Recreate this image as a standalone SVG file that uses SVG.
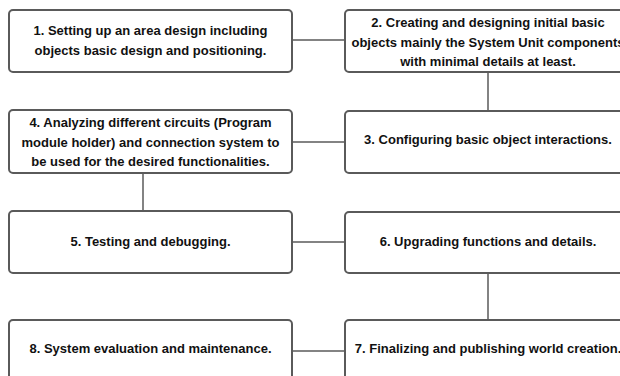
<svg xmlns="http://www.w3.org/2000/svg" width="620" height="376" viewBox="0 0 620 376">
<style>
.box{fill:#fff;stroke:#5a5a5a;stroke-width:2}
.lbl{font-family:"Liberation Sans",Arial,sans-serif;font-weight:bold;font-size:13px;fill:#111;text-anchor:middle}
.con{stroke:#5a5a5a;stroke-width:1.5;fill:none}
</style>
<rect width="620" height="376" fill="#fff"/>
<g id="connectors">
<line class="con" x1="292" y1="40" x2="345" y2="40"/>
<line class="con" x1="488" y1="72" x2="488" y2="111"/>
<line class="con" x1="292" y1="142" x2="345" y2="142"/>
<line class="con" x1="143" y1="173" x2="143" y2="211"/>
<line class="con" x1="292" y1="242" x2="345" y2="242"/>
<line class="con" x1="488" y1="273" x2="488" y2="320"/>
<line class="con" x1="292" y1="351" x2="345" y2="351"/>
</g>
<g id="n1">
<rect class="box" x="9" y="10" width="283" height="62" rx="4"/>
<text class="lbl" x="150.5" y="35">1. Setting up an area design including</text>
<text class="lbl" x="150.5" y="55">objects basic design and positioning.</text>
</g>
<g id="n2">
<rect class="box" x="345" y="10" width="286" height="62" rx="4"/>
<text class="lbl" x="488" y="26.5">2. Creating and designing initial basic</text>
<text class="lbl" x="488" y="46.5">objects mainly the System Unit components</text>
<text class="lbl" x="488" y="66">with minimal details at least.</text>
</g>
<g id="n3">
<rect class="box" x="345" y="111" width="286" height="62" rx="4"/>
<text class="lbl" x="488" y="144">3. Configuring basic object interactions.</text>
</g>
<g id="n4">
<rect class="box" x="9" y="110" width="283" height="63" rx="4"/>
<text class="lbl" x="150.5" y="127">4. Analyzing different circuits (Program</text>
<text class="lbl" x="150.5" y="146.5">module holder) and connection system to</text>
<text class="lbl" x="150.5" y="166">be used for the desired functionalities.</text>
</g>
<g id="n5">
<rect class="box" x="9" y="211" width="283" height="62" rx="4"/>
<text class="lbl" x="150.5" y="245.5">5. Testing and debugging.</text>
</g>
<g id="n6">
<rect class="box" x="345" y="212" width="286" height="61" rx="4"/>
<text class="lbl" x="488" y="245.5">6. Upgrading functions and details.</text>
</g>
<g id="n7">
<rect class="box" x="345" y="320" width="286" height="70" rx="4"/>
<text class="lbl" x="488" y="352.5">7. Finalizing and publishing world creation.</text>
</g>
<g id="n8">
<rect class="box" x="9" y="320" width="283" height="70" rx="4"/>
<text class="lbl" x="150.5" y="352.5">8. System evaluation and maintenance.</text>
</g>
</svg>
